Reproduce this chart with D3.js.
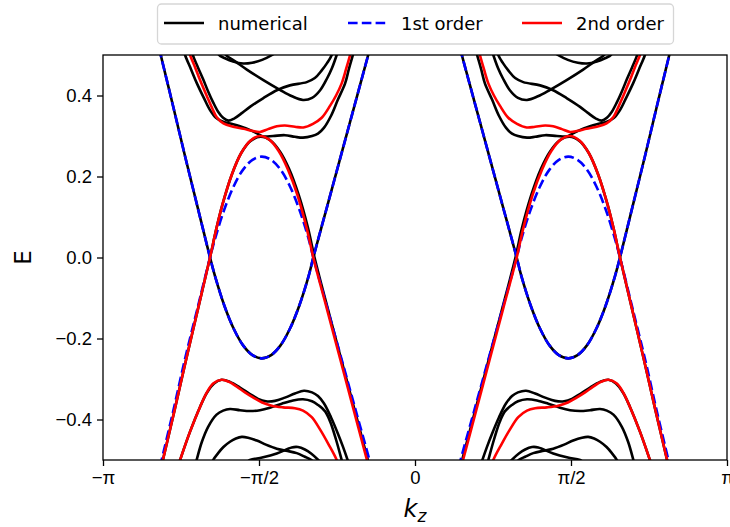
<!DOCTYPE html>
<html lang="en">
<head>
<meta charset="UTF-8">
<title>Band structure along kz</title>
<script src="https://d3js.org/d3.v7.min.js"></script>
<style>
    body { margin: 0; background: #fff; }
    svg { display: block; font-family: "DejaVu Sans", sans-serif; }
    .tick text { font-size: 18.5px; fill: #000; }
    .tick line { stroke: #000; stroke-width: 1.3; }
    .legend-text { font-size: 18px; }
</style>
</head>
<body>
<div id="chart"></div>
<script>
    // kz in units of pi, E. Bands were read on the left half (kz < 0);
    // the spectrum is symmetric, the right half is the mirror image.
    const firstA = [[-0.830, 0.55], [-0.815, 0.50], [-0.776, 0.376], [-0.737, 0.250], [-0.697, 0.125], [-0.657, 0.0],
        [-0.641, -0.046], [-0.611, -0.119], [-0.581, -0.176], [-0.551, -0.217], [-0.521, -0.241], [-0.491, -0.249],
        [-0.461, -0.241], [-0.431, -0.217], [-0.401, -0.176], [-0.371, -0.119], [-0.341, -0.046], [-0.326, 0.0],
        [-0.283, 0.122], [-0.240, 0.244], [-0.195, 0.372], [-0.150, 0.50], [-0.133, 0.55]];
    const firstB = [[-0.827, -0.55], [-0.812, -0.50], [-0.774, -0.376], [-0.737, -0.250], [-0.697, -0.125], [-0.657, 0.0],
        [-0.641, 0.046], [-0.611, 0.119], [-0.581, 0.176], [-0.551, 0.217], [-0.521, 0.241], [-0.491, 0.249],
        [-0.461, 0.241], [-0.431, 0.217], [-0.401, 0.176], [-0.371, 0.119], [-0.341, 0.046], [-0.326, 0.0],
        [-0.282, -0.122], [-0.238, -0.244], [-0.192, -0.372], [-0.146, -0.50], [-0.129, -0.55]];

    const secondB = [[-0.815, -0.525], [-0.808, -0.50], [-0.770, -0.375], [-0.733, -0.250], [-0.695, -0.125], [-0.657, 0.0],
        [-0.637, 0.070], [-0.617, 0.131], [-0.587, 0.205], [-0.557, 0.258], [-0.527, 0.289], [-0.497, 0.300],
        [-0.467, 0.291], [-0.437, 0.263], [-0.407, 0.217], [-0.377, 0.155], [-0.347, 0.072], [-0.326, 0.0],
        [-0.283, -0.125], [-0.240, -0.250], [-0.197, -0.375], [-0.154, -0.50], [-0.145, -0.525]];
    const secondU = [[-0.728, 0.52], [-0.721, 0.50], [-0.705, 0.47], [-0.689, 0.438], [-0.668, 0.40], [-0.651, 0.37],
        [-0.636, 0.347], [-0.614, 0.331], [-0.583, 0.323], [-0.550, 0.318], [-0.522, 0.313], [-0.497, 0.310],
        [-0.471, 0.317], [-0.443, 0.324], [-0.417, 0.326], [-0.385, 0.323], [-0.358, 0.321], [-0.327, 0.330],
        [-0.299, 0.345], [-0.272, 0.375], [-0.253, 0.40], [-0.235, 0.43], [-0.221, 0.465], [-0.208, 0.50], [-0.202, 0.52]];
    const secondL = [[-0.766, -0.53], [-0.753, -0.50], [-0.721, -0.43], [-0.689, -0.369], [-0.667, -0.333], [-0.647, -0.311],
        [-0.620, -0.302], [-0.596, -0.307], [-0.571, -0.319], [-0.545, -0.333], [-0.518, -0.346], [-0.490, -0.358],
        [-0.459, -0.366], [-0.423, -0.370], [-0.385, -0.372], [-0.359, -0.378], [-0.331, -0.394], [-0.304, -0.425],
        [-0.278, -0.46], [-0.251, -0.50], [-0.244, -0.52]];

    const numB = [[-0.815, -0.525], [-0.808, -0.50], [-0.770, -0.375], [-0.733, -0.250], [-0.695, -0.125], [-0.657, 0.0],
        [-0.637, 0.070], [-0.617, 0.131], [-0.587, 0.205], [-0.557, 0.258], [-0.527, 0.288], [-0.495, 0.298],
        [-0.463, 0.289], [-0.433, 0.262], [-0.403, 0.218], [-0.373, 0.155], [-0.343, 0.073], [-0.322, 0.0],
        [-0.280, -0.125], [-0.237, -0.250], [-0.194, -0.375], [-0.151, -0.50], [-0.142, -0.525]];
    const numU1 = [[-0.744, 0.52], [-0.737, 0.50], [-0.718, 0.465], [-0.699, 0.43], [-0.676, 0.393], [-0.657, 0.364],
        [-0.638, 0.345], [-0.615, 0.335], [-0.583, 0.329], [-0.545, 0.320], [-0.510, 0.308], [-0.487, 0.299],
        [-0.455, 0.300], [-0.417, 0.302], [-0.385, 0.298], [-0.359, 0.296], [-0.330, 0.300], [-0.311, 0.306],
        [-0.292, 0.320], [-0.269, 0.350], [-0.247, 0.390], [-0.224, 0.430], [-0.212, 0.465], [-0.199, 0.50], [-0.192, 0.52]];
    const numU2 = [[-0.716, 0.52], [-0.712, 0.50], [-0.696, 0.47], [-0.679, 0.44], [-0.663, 0.41], [-0.647, 0.383],
        [-0.631, 0.360], [-0.615, 0.345], [-0.599, 0.338], [-0.580, 0.343], [-0.554, 0.357], [-0.529, 0.372],
        [-0.487, 0.393], [-0.443, 0.413], [-0.401, 0.425], [-0.347, 0.433], [-0.321, 0.443], [-0.299, 0.462],
        [-0.282, 0.48], [-0.267, 0.50], [-0.263, 0.52]];
    const numU3 = [[-0.631, 0.51], [-0.628, 0.50], [-0.609, 0.492], [-0.583, 0.484], [-0.551, 0.479], [-0.522, 0.481],
        [-0.490, 0.488], [-0.458, 0.50], [-0.449, 0.505]];
    const numU4 = [[-0.612, 0.51], [-0.606, 0.50], [-0.574, 0.483], [-0.539, 0.464], [-0.486, 0.438], [-0.433, 0.414],
        [-0.394, 0.398], [-0.359, 0.389], [-0.330, 0.394], [-0.304, 0.413], [-0.282, 0.442], [-0.266, 0.468],
        [-0.251, 0.50], [-0.247, 0.51]];
    const numL1 = [[-0.766, -0.53], [-0.753, -0.50], [-0.721, -0.43], [-0.689, -0.369], [-0.667, -0.334], [-0.644, -0.311],
        [-0.620, -0.302], [-0.593, -0.307], [-0.561, -0.321], [-0.529, -0.337], [-0.503, -0.349], [-0.478, -0.355],
        [-0.449, -0.354], [-0.417, -0.346], [-0.385, -0.336], [-0.356, -0.329], [-0.330, -0.333], [-0.311, -0.342],
        [-0.292, -0.360], [-0.269, -0.395], [-0.247, -0.435], [-0.231, -0.467], [-0.216, -0.50], [-0.208, -0.52]];
    const numL2 = [[-0.707, -0.52], [-0.700, -0.50], [-0.683, -0.455], [-0.663, -0.418], [-0.636, -0.388], [-0.615, -0.378],
        [-0.593, -0.374], [-0.561, -0.377], [-0.529, -0.379], [-0.497, -0.377], [-0.465, -0.371], [-0.427, -0.361],
        [-0.391, -0.353], [-0.359, -0.350], [-0.330, -0.355], [-0.311, -0.364], [-0.288, -0.380], [-0.272, -0.405],
        [-0.253, -0.450], [-0.235, -0.50], [-0.228, -0.52]];
    const numL3 = [[-0.651, -0.51], [-0.647, -0.50], [-0.631, -0.483], [-0.614, -0.468], [-0.593, -0.455], [-0.574, -0.447],
        [-0.555, -0.443], [-0.535, -0.445], [-0.507, -0.452], [-0.478, -0.462], [-0.443, -0.472], [-0.413, -0.477],
        [-0.379, -0.483], [-0.353, -0.492], [-0.337, -0.498], [-0.324, -0.505]];
    const numL4 = [[-0.545, -0.51], [-0.529, -0.50], [-0.490, -0.494], [-0.443, -0.484], [-0.395, -0.469], [-0.375, -0.468],
        [-0.353, -0.474], [-0.333, -0.484], [-0.310, -0.50], [-0.304, -0.505]];

    const xTicks = [-1, -0.5, 0, 0.5, 1];
    const xTickLabels = ["\u2212\u03c0", "\u2212\u03c0/2", "0", "\u03c0/2", "\u03c0"];
    const yTicks = [-0.4, -0.2, 0.0, 0.2, 0.4];

    const numerical = [firstA, numB, numU1, numU2, numU3, numU4, numL1, numL2, numL3, numL4];
    const firstOrder = [firstA, firstB];
    const secondOrder = [secondB, secondU, secondL];

    const W = 730, H = 527;
    const margin = { top: 55, right: 3, bottom: 67, left: 103 };
    const width = W - margin.left - margin.right;
    const height = H - margin.top - margin.bottom;

    const svg = d3.select("#chart").append("svg")
        .attr("width", W)
        .attr("height", H);

    const g = svg.append("g")
        .attr("transform", `translate(${margin.left},${margin.top})`);

    const x = d3.scaleLinear().domain([-1, 1]).range([0, width]);
    const y = d3.scaleLinear().domain([-0.5, 0.5]).range([height, 0]);

    g.append("defs").append("clipPath")
        .attr("id", "plot-clip")
        .append("rect")
        .attr("width", width)
        .attr("height", height);

    const line = d3.line()
        .x(d => x(d[0]))
        .y(d => y(d[1]))
        .curve(d3.curveCatmullRom.alpha(0.5));

    // both halves of every band
    const bothHalves = band => [band, band.map(d => [-d[0], d[1]]).reverse()];

    const plot = g.append("g").attr("clip-path", "url(#plot-clip)");

    function drawSet(set, color, dash) {
        plot.append("g")
            .selectAll("path")
            .data(set.flatMap(bothHalves))
            .join("path")
            .attr("d", line)
            .attr("fill", "none")
            .attr("stroke", color)
            .attr("stroke-width", 2.6)
            .attr("stroke-dasharray", dash);
    }

    drawSet(numerical, "#000", null);
    drawSet(firstOrder, "#0000ff", "9.6,4.2");
    drawSet(secondOrder, "#ff0000", null);

    // axes
    const xAxis = g.append("g")
        .attr("transform", `translate(0,${height})`)
        .call(d3.axisBottom(x).tickValues(xTicks).tickFormat((d, i) => xTickLabels[i]).tickSize(6).tickPadding(5));
    xAxis.select(".domain").remove();

    const yAxis = g.append("g")
        .call(d3.axisLeft(y).tickValues(yTicks).tickFormat(d3.format(".1f")).tickSize(6).tickPadding(5));
    yAxis.select(".domain").remove();

    g.append("rect")
        .attr("width", width)
        .attr("height", height)
        .attr("fill", "none")
        .attr("stroke", "#000")
        .attr("stroke-width", 1.3);

    // axis labels
    svg.append("text")
        .attr("transform", `translate(23,${margin.top + height / 2}) rotate(-90)`)
        .attr("text-anchor", "middle")
        .attr("dominant-baseline", "central")
        .attr("font-size", 23)
        .text("E");

    const kLabel = svg.append("text")
        .attr("x", margin.left + width / 2)
        .attr("y", 517)
        .attr("text-anchor", "middle")
        .attr("font-size", 24);
    kLabel.append("tspan").attr("font-style", "italic").text("k");
    kLabel.append("tspan").attr("font-style", "italic").attr("font-size", 17).attr("dy", 5).text("z");

    // legend
    const legend = svg.append("g");
    legend.append("rect")
        .attr("x", 157.5).attr("y", 4)
        .attr("width", 516).attr("height", 40)
        .attr("rx", 4)
        .attr("fill", "#fff")
        .attr("stroke", "#d6d6d6")
        .attr("stroke-width", 1.3);

    const legendItems = [
        { label: "numerical", color: "#000", dash: null, x: 164, tx: 218 },
        { label: "1st order", color: "#0000ff", dash: "9.6,4.2", x: 348, tx: 401 },
        { label: "2nd order", color: "#ff0000", dash: null, x: 522, tx: 576 }
    ];

    legendItems.forEach(it => {
        legend.append("line")
            .attr("x1", it.x).attr("x2", it.x + 40)
            .attr("y1", 23).attr("y2", 23)
            .attr("stroke", it.color)
            .attr("stroke-width", 2.6)
            .attr("stroke-dasharray", it.dash);
        legend.append("text")
            .attr("class", "legend-text")
            .attr("x", it.tx)
            .attr("y", 23)
            .attr("dominant-baseline", "central")
            .text(it.label);
    });
</script>
</body>
</html>
